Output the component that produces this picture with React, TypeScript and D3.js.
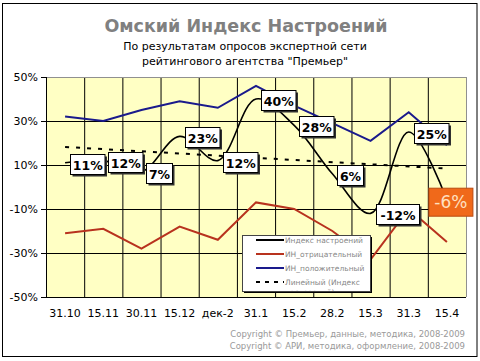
import React from "react";
import * as d3 from "d3";

const categories = ["31.10", "15.11", "30.11", "15.12", "дек-2", "31.1", "15.2", "28.2", "15.3", "31.3", "15.4"];
const indexValues = [11, 12, 7, 23, 12, 40, 28, 6, -12, 25, -6];
const negativeValues = [-21, -19, -28, -18, -24, -7, -10, -20, -33, -10, -25];
const positiveValues = [32, 30, 35, 39, 36, 46, 37, 29, 21, 34, 19];
const yTicks = [50, 30, 10, -10, -30, -50];
const legendLabels = ["Индекс настроений", "ИН_отрицательный", "ИН_положительный", "Линейный (Индекс"];
const titleText = "Омский Индекс Настроений";
const subtitleLines = ["По результатам опросов экспертной сети", "рейтингового агентства \"Премьер\""];
const copyrightLines = [
  "Copyright © Премьер, данные, методика, 2008-2009",
  "Copyright © АРИ, методика, оформление, 2008-2009",
];

const W = 480;
const H = 361;
const FONT = "'DejaVu Sans', Verdana, sans-serif";

export default function App() {
  const x = d3.scaleBand<string>().domain(categories).range([46, 466]);
  const y = d3.scaleLinear().domain([-50, 50]).range([297, 77]);
  const cx = (i: number) => (x(categories[i]) as number) + x.bandwidth() / 2;

  const straight = d3
    .line<number>()
    .x((_, i) => cx(i))
    .y((v) => y(v));
  const smooth = d3
    .line<number>()
    .x((_, i) => cx(i))
    .y((v) => y(v))
    .curve(d3.curveCatmullRom.alpha(0.5));

  // linear trend (least squares) of the index series
  const n = indexValues.length;
  const mx = d3.mean(d3.range(n)) as number;
  const my = d3.mean(indexValues) as number;
  const sxy = d3.sum(indexValues, (v, i) => (i - mx) * (v - my));
  const sxx = d3.sum(d3.range(n), (i) => (i - mx) * (i - mx));
  const slope = sxy / sxx;
  const t0 = my - slope * mx;
  const trend = [t0, t0 + slope * (n - 1)];

  const boundaries = categories.slice(1).map((c) => x(c) as number);

  const legendColors = ["#000000", "#b8321e", "#1a1a8c", "#000000"];

  return (
    <svg width={W} height={H} style={{ position: "absolute", left: 0, top: 0, background: "#fff" }}>
      <rect x={0} y={0} width={W} height={H} fill="#fff" />
      <rect x={2.5} y={3.5} width={474.5} height={353} fill="none" stroke="#000" strokeWidth={1} />

      <text x={246} y={32} textAnchor="middle" fontFamily={FONT} fontWeight="bold" fontSize={17.5} fill="#808080">
        {titleText}
      </text>
      {subtitleLines.map((s, i) => (
        <text key={i} x={245} y={50 + i * 14.5} textAnchor="middle" fontFamily={FONT} fontSize={11} fill="#000">
          {s}
        </text>
      ))}

      {/* plot area */}
      <rect x={46} y={77} width={420} height={220} fill="#ffffc4" />
      {yTicks.slice(1, -1).map((t) => (
        <line key={t} x1={46} x2={466} y1={y(t) + 0.5} y2={y(t) + 0.5} stroke="#000" strokeWidth={1} />
      ))}
      {boundaries.map((b, i) => (
        <line key={i} x1={b + 0.5} x2={b + 0.5} y1={77} y2={297} stroke="#000" strokeWidth={1} />
      ))}
      <line x1={46} x2={466} y1={77.5} y2={77.5} stroke="#909090" strokeWidth={1} />
      <line x1={466.5} x2={466.5} y1={77} y2={297} stroke="#909090" strokeWidth={1} />
      <line x1={46.5} x2={46.5} y1={77} y2={297.5} stroke="#000" strokeWidth={1} />
      <line x1={46} x2={466} y1={297.5} y2={297.5} stroke="#000" strokeWidth={1} />
      {yTicks.map((t) => (
        <g key={t}>
          <line x1={41} x2={46} y1={y(t) + 0.5} y2={y(t) + 0.5} stroke="#000" />
          <text x={38} y={y(t) + 4} textAnchor="end" fontFamily={FONT} fontSize={11} fill="#000">
            {t}%
          </text>
        </g>
      ))}
      {categories.map((c, i) => (
        <text key={c} x={cx(i)} y={317} textAnchor="middle" fontFamily={FONT} fontSize={11} fill="#000">
          {c}
        </text>
      ))}

      {/* series */}
      <path d={straight(positiveValues) || ""} fill="none" stroke="#1a1a8c" strokeWidth={2} />
      <path d={straight(negativeValues) || ""} fill="none" stroke="#b8321e" strokeWidth={2} />
      <line
        x1={cx(0)}
        x2={cx(n - 1)}
        y1={y(trend[0])}
        y2={y(trend[1])}
        stroke="#000"
        strokeWidth={2}
        strokeDasharray="4,7"
      />
      <path d={smooth(indexValues) || ""} fill="none" stroke="#000" strokeWidth={1.6} />

      {/* legend */}
      <g>
        <rect x={244} y={237} width={128} height={56} fill="#000" />
        <rect x={242.5} y={235.5} width={128} height={56} fill="#fff" stroke="#444" strokeWidth={1} />
        <clipPath id="legclip">
          <rect x={243} y={236} width={127} height={55} />
        </clipPath>
        <g clipPath="url(#legclip)">
          {legendLabels.map((l, i) => (
            <g key={l}>
              <line
                x1={256}
                x2={284}
                y1={240 + i * 14}
                y2={240 + i * 14}
                stroke={legendColors[i]}
                strokeWidth={2}
                strokeDasharray={i === 3 ? "4,5" : undefined}
              />
              <text x={285} y={243 + i * 14} fontFamily={FONT} fontSize={7.5} fill="#888">
                {l}
              </text>
            </g>
          ))}
          <text x={285} y={295} fontFamily={FONT} fontSize={7.5} fill="#888">
            настроений)
          </text>
        </g>
      </g>

      {/* data labels */}
      {indexValues.map((v, i) => {
        const label = `${v}%`;
        const last = i === n - 1;
        if (last) {
          const w = 44;
          const h = 28;
          const bx = cx(i) - 18;
          const by = y(v) - 12;
          return (
            <g key={i}>
              <rect x={bx} y={by} width={w} height={h} fill="#f0691a" stroke="#b84a10" strokeWidth={1} />
              <text x={bx + w / 2} y={by + 20} textAnchor="middle" fontFamily={FONT} fontSize={17} fill="#ffe0c0">
                {label}
              </text>
            </g>
          );
        }
        const w = label.length * 8.5 + 9;
        const h = 20;
        const bx = Math.round(cx(i) + 5) + 0.5;
        const by = Math.round(y(v) - 9) + 0.5;
        return (
          <g key={i}>
            <rect x={bx + 2} y={by + 2} width={w} height={h} fill="#303030" />
            <rect x={bx} y={by} width={w} height={h} fill="#fff" stroke="#000" strokeWidth={1} />
            <text x={bx + w / 2} y={by + 15} textAnchor="middle" fontFamily={FONT} fontWeight="bold" fontSize={12.5} fill="#000">
              {label}
            </text>
          </g>
        );
      })}

      {copyrightLines.map((c, i) => (
        <text key={i} x={465} y={337 + i * 11.5} textAnchor="end" fontFamily={FONT} fontSize={8.5} fill="#999">
          {c}
        </text>
      ))}
    </svg>
  );
}
